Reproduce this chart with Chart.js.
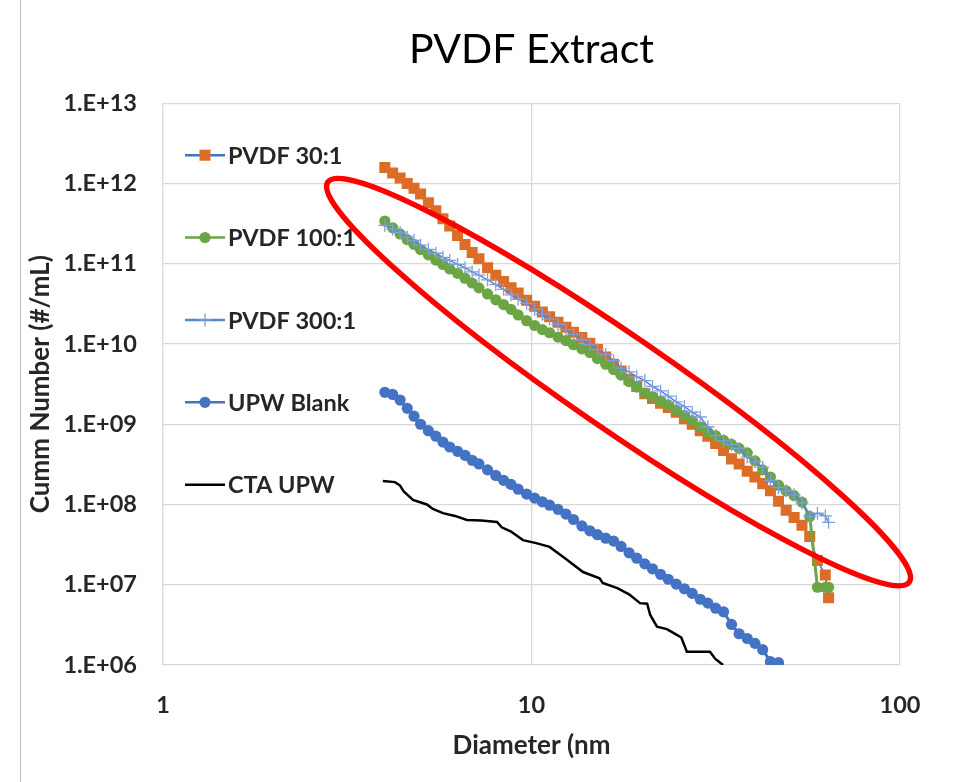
<!DOCTYPE html>
<html>
<head>
<meta charset="utf-8">
<script src="https://cdn.jsdelivr.net/npm/chart.js@4.4.1/dist/chart.umd.min.js"></script>
<style>
  html, body { margin: 0; padding: 0; background: #fff; }
  #wrap { position: relative; width: 956px; height: 782px; }
  #frame { position: absolute; left: 20px; top: 0; width: 1px; height: 782px; background: #bfbfbf; }
</style>
</head>
<body>
<div id="wrap">
  <div id="frame"></div>
  <canvas id="psdChart" width="956" height="782"></canvas>
</div>
<script>
// ---------------- data ----------------
var diameters = [4.0, 4.2, 4.4, 4.6, 4.8, 5.0, 5.25, 5.5, 5.75, 6.0,
  6.3, 6.6, 6.9, 7.2, 7.6, 8.0, 8.4, 8.8, 9.2, 9.7,
  10.2, 10.7, 11.2, 11.8, 12.4, 13.0, 13.7, 14.4, 15.1, 15.9,
  16.7, 17.5, 18.4, 19.3, 20.3, 21.3, 22.4, 23.5, 24.7, 26.0,
  27.3, 28.7, 30.1, 31.6, 33.2, 34.9, 36.6, 38.5, 40.4, 42.4,
  44.5, 46.8, 49.1, 51.6, 54.2, 56.9, 59.7, 62.7, 64];

var pvdf30 = [1.58e12, 1.35e12, 1.17e12, 1.0e12, 8.7e11, 7.4e11, 5.75e11, 4.57e11, 3.63e11, 2.95e11,
  2.24e11, 1.74e11, 1.38e11, 1.15e11, 8.9e10, 7.2e10, 6.0e10, 5.0e10, 4.3e10, 3.5e10,
  2.95e10, 2.5e10, 2.19e10, 1.86e10, 1.62e10, 1.40e10, 1.20e10, 1.02e10, 8.5e9, 6.9e9,
  5.6e9, 4.6e9, 3.6e9, 2.95e9, 2.4e9, 2.1e9, 1.82e9, 1.62e9, 1.41e9, 1.17e9,
  1.0e9, 8.3e8, 7.1e8, 5.75e8, 4.7e8, 3.7e8, 3.2e8, 2.6e8, 2.2e8, 1.82e8,
  1.48e8, 1.1e8, 8.5e7, 6.9e7, 5.5e7, 4.0e7, 2.0e7, 1.32e7, 6.9e6];

var pvdf100 = [3.4e11, 2.8e11, 2.35e11, 2.0e11, 1.74e11, 1.5e11, 1.29e11, 1.11e11, 9.8e10, 8.6e10,
  7.6e10, 6.6e10, 5.75e10, 5.0e10, 4.2e10, 3.55e10, 3.1e10, 2.7e10, 2.3e10, 1.95e10,
  1.7e10, 1.51e10, 1.38e10, 1.22e10, 1.1e10, 9.8e9, 8.7e9, 7.8e9, 6.6e9, 5.6e9,
  4.8e9, 4.1e9, 3.4e9, 2.9e9, 2.45e9, 2.2e9, 1.95e9, 1.74e9, 1.51e9, 1.29e9,
  1.11e9, 9.3e8, 8.0e8, 7.2e8, 6.3e8, 5.6e8, 5.0e8, 4.4e8, 3.5e8, 2.7e8,
  2.2e8, 1.74e8, 1.48e8, 1.29e8, 1.07e8, 7.1e7, 9.3e6, 9.3e6, 9.3e6];

var pvdf300 = [3.0e11, 2.7e11, 2.45e11, 2.14e11, 1.95e11, 1.7e11, 1.51e11, 1.35e11, 1.2e11, 1.1e11,
  9.8e10, 8.9e10, 7.9e10, 7.2e10, 6.3e10, 5.5e10, 4.8e10, 4.1e10, 3.6e10, 3.2e10,
  2.7e10, 2.35e10, 2.04e10, 1.76e10, 1.51e10, 1.32e10, 1.12e10, 9.8e9, 8.5e9, 7.4e9,
  6.2e9, 5.0e9, 4.5e9, 3.9e9, 3.5e9, 2.95e9, 2.6e9, 2.24e9, 1.9e9, 1.66e9,
  1.41e9, 1.23e9, 9.3e8, 7.2e8, 6.2e8, 5.6e8, 5.0e8, 3.9e8, 3.4e8, 2.9e8,
  2.0e8, 1.62e8, 1.48e8, 1.32e8, 1.05e8, 7.1e7, 7.8e7, 7.2e7, 6.0e7];

// UPW blank stops at 46.8 nm
var upwBlank = [2.5e9, 2.35e9, 2.0e9, 1.58e9, 1.26e9, 1.0e9, 8.3e8, 7.1e8, 6.0e8, 5.2e8,
  4.6e8, 4.1e8, 3.55e8, 3.2e8, 2.7e8, 2.3e8, 2.0e8, 1.78e8, 1.55e8, 1.35e8,
  1.2e8, 1.08e8, 9.8e7, 8.7e7, 7.6e7, 6.5e7, 5.4e7, 4.7e7, 4.2e7, 3.8e7,
  3.5e7, 3.0e7, 2.5e7, 2.14e7, 1.82e7, 1.58e7, 1.35e7, 1.17e7, 1.02e7, 8.9e6,
  7.8e6, 6.6e6, 5.9e6, 5.1e6, 4.6e6, 3.2e6, 2.45e6, 2.14e6, 1.86e6, 1.55e6,
  1.1e6, 1.07e6];

var ctaDiameters = [3.95, 4.26, 4.4, 4.5, 4.77, 5.2, 5.4, 5.75, 6.2, 6.68, 7.3, 8.06,
  8.3, 8.8, 9.48, 10.3, 11.2, 12.4, 13.8, 15.3, 15.6, 17.1, 18.4, 19.7,
  20.6, 21.0, 21.9, 23.3, 24.8, 25.5, 26.4, 28.5, 30.5, 31.5, 33.1];
var ctaUpw = [1.96e8, 1.9e8, 1.72e8, 1.45e8, 1.14e8, 1.0e8, 8.8e7, 7.8e7, 7.2e7, 6.4e7, 6.3e7, 6.05e7,
  5.2e7, 4.6e7, 3.6e7, 3.3e7, 2.96e7, 2.1e7, 1.44e7, 1.2e7, 1.05e7, 9.1e6, 7.6e6, 5.9e6,
  5.8e6, 4.2e6, 3.0e6, 2.8e6, 2.37e6, 2.2e6, 1.46e6, 1.46e6, 1.46e6, 1.2e6, 1.0e6];

var xTicks = [1, 10, 100];
var yTicks = [1e6, 1e7, 1e8, 1e9, 1e10, 1e11, 1e12, 1e13];

// red ellipse drawn round the PVDF curves: ends of the long axis (nm, #/mL)
var ellipseEnds = [[2.8, 1.04e12], [106, 1.08e7]];

function toPoints(xs, ys) {
  return ys.map(function (y, i) { return { x: xs[i], y: y }; });
}

var FONT = 'Lato, "Liberation Sans", sans-serif';
var TXT = '#262626';

// legend drawn inside the plot area, like the excel one
var insideLegend = {
  id: 'insideLegend',
  afterDraw: function (chart) {
    var ctx = chart.ctx;
    var area = chart.chartArea;
    var x0 = area.left + 22;
    var step = (area.bottom - area.top) / 6.82;
    ctx.save();
    chart.data.datasets.forEach(function (ds, i) {
      var y = area.top + 52 + i * step;
      ctx.strokeStyle = ds.borderColor;
      ctx.lineWidth = 2.5;
      ctx.beginPath();
      ctx.moveTo(x0, y);
      ctx.lineTo(x0 + 40, y);
      ctx.stroke();
      if (ds.pointRadius > 0) {
        ctx.fillStyle = ds.pointBackgroundColor;
        ctx.strokeStyle = ds.pointBorderColor;
        ctx.lineWidth = ds.pointBorderWidth;
        Chart.helpers.drawPoint(ctx, {
          pointStyle: ds.pointStyle, rotation: 0,
          radius: ds.pointRadius, borderWidth: ds.pointBorderWidth
        }, x0 + 20, y);
      }
      ctx.fillStyle = TXT;
      ctx.font = 'bold 23.5px ' + FONT;
      ctx.textBaseline = 'middle';
      ctx.textAlign = 'left';
      ctx.fillText(ds.label, x0 + 43, y + 1);
    });

    // the red ellipse
    var xs = chart.scales.x, ys = chart.scales.y;
    var p1 = [xs.getPixelForValue(ellipseEnds[0][0]), ys.getPixelForValue(ellipseEnds[0][1])];
    var p2 = [xs.getPixelForValue(ellipseEnds[1][0]), ys.getPixelForValue(ellipseEnds[1][1])];
    var cx = (p1[0] + p2[0]) / 2, cy = (p1[1] + p2[1]) / 2;
    var a = Math.hypot(p2[0] - p1[0], p2[1] - p1[1]) / 2;
    var ang = Math.atan2(p2[1] - p1[1], p2[0] - p1[0]);
    ctx.strokeStyle = '#ff0000';
    ctx.lineWidth = 5.5;
    ctx.beginPath();
    ctx.ellipse(cx, cy, a, 47, ang, 0, Math.PI * 2);
    ctx.stroke();
    ctx.restore();
  }
};

var ctx = document.getElementById('psdChart');
var myChart = new Chart(ctx, {
  type: 'line',
  data: {
    datasets: [{
      label: 'PVDF 30:1',
      data: toPoints(diameters, pvdf30),
      borderColor: '#4472C4',
      borderWidth: 1.5,
      pointStyle: 'rect',
      pointRadius: 7.8,
      pointBackgroundColor: '#DD6D26',
      pointBorderColor: '#DD6D26',
      pointBorderWidth: 0,
      order: 5
    }, {
      label: 'PVDF 100:1',
      data: toPoints(diameters, pvdf100),
      borderColor: '#6CA544',
      borderWidth: 3,
      pointStyle: 'circle',
      pointRadius: 5.6,
      pointBackgroundColor: '#6CA544',
      pointBorderColor: '#6CA544',
      pointBorderWidth: 0,
      order: 4
    }, {
      label: 'PVDF 300:1',
      data: toPoints(diameters, pvdf300),
      borderColor: '#5B84D0',
      borderWidth: 1.5,
      pointStyle: 'cross',
      pointRadius: 6.5,
      pointBackgroundColor: '#7D9EDD',
      pointBorderColor: '#7D9EDD',
      pointBorderWidth: 1.3,
      order: 3
    }, {
      label: 'UPW Blank',
      data: toPoints(diameters, upwBlank),
      borderColor: '#4472C4',
      borderWidth: 3,
      pointStyle: 'circle',
      pointRadius: 5.6,
      pointBackgroundColor: '#4472C4',
      pointBorderColor: '#4472C4',
      pointBorderWidth: 0,
      order: 2
    }, {
      label: 'CTA UPW',
      data: toPoints(ctaDiameters, ctaUpw),
      borderColor: '#000000',
      borderWidth: 2.5,
      pointRadius: 0,
      order: 1
    }]
  },
  options: {
    responsive: false,
    animation: false,
    layout: { padding: { left: 0, right: 56, top: 0, bottom: 0 } },
    elements: { line: { tension: 0 } },
    plugins: {
      legend: { display: false },
      tooltip: { enabled: false },
      title: {
        display: true,
        fullSize: false,
        text: 'PVDF Extract',
        color: '#000',
        font: { family: FONT, size: 41, weight: 'normal' },
        padding: { top: 25, bottom: 29 }
      }
    },
    scales: {
      x: {
        type: 'logarithmic',
        min: 1,
        max: 100,
        afterBuildTicks: function (s) { s.ticks = xTicks.map(function (v) { return { value: v }; }); },
        afterFit: function (s) { s.height = 117; },
        grid: { color: '#d9d9d9', lineWidth: 1.3, drawTicks: false },
        border: { display: false },
        ticks: {
          padding: 26,
          color: TXT,
          font: { family: FONT, size: 23.5, weight: 'bold' },
          callback: function (v) { return String(v); }
        },
        title: {
          display: true,
          text: 'Diameter (nm',
          color: TXT,
          font: { family: FONT, size: 26, weight: 'bold' },
          padding: { top: 0, bottom: 21 }
        }
      },
      y: {
        type: 'logarithmic',
        min: 1e6,
        max: 1e13,
        afterBuildTicks: function (s) { s.ticks = yTicks.map(function (v) { return { value: v }; }); },
        afterFit: function (s) { s.width = 163; },
        grid: { color: '#d9d9d9', lineWidth: 1.3, drawTicks: false },
        border: { display: false },
        ticks: {
          padding: 26,
          color: TXT,
          font: { family: FONT, size: 23.5, weight: 'bold' },
          callback: function (v) {
            var e = Math.round(Math.log10(v));
            return '1.E+' + (e < 10 ? '0' + e : e);
          }
        },
        title: {
          display: true,
          text: 'Cumm Number (#/mL)',
          color: TXT,
          font: { family: FONT, size: 26, weight: 'bold' },
          padding: { top: 25, bottom: 0 }
        }
      }
    }
  },
  plugins: [insideLegend]
});
</script>
</body>
</html>
